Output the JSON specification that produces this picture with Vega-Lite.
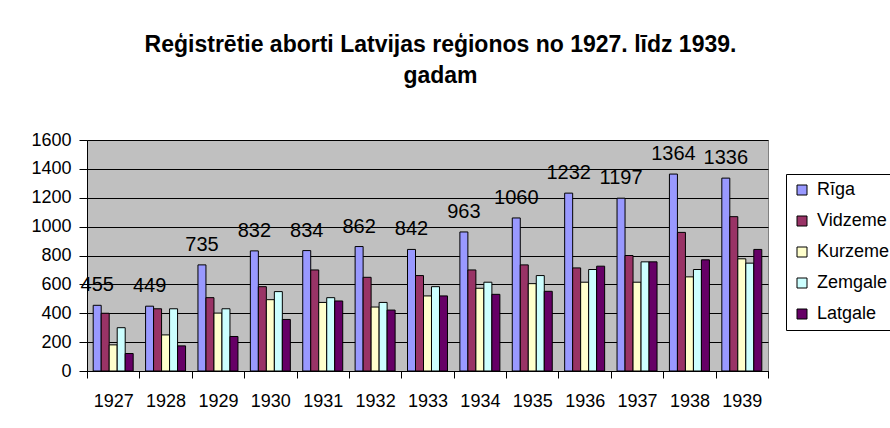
{
  "$schema": "https://vega.github.io/schema/vega-lite/v6.json",
  "width": 681,
  "height": 231,
  "autosize": {"type": "none"},
  "padding": {"left": 87, "top": 140, "right": 122, "bottom": 57},
  "background": "white",
  "title": {
    "text": ["Reģistrētie aborti Latvijas reģionos no 1927. līdz 1939.", "gadam"],
    "font": "Liberation Sans",
    "fontSize": 23,
    "fontWeight": "bold",
    "color": "#000000",
    "anchor": "middle",
    "dx": 13,
    "offset": 25,
    "lineHeight": 31,
    "baseline": "alphabetic"
  },
  "data": {
    "values": [
      {"year": "1927", "region": "Rīga", "value": 455},
      {"year": "1927", "region": "Vidzeme", "value": 400},
      {"year": "1927", "region": "Kurzeme", "value": 181},
      {"year": "1927", "region": "Zemgale", "value": 300},
      {"year": "1927", "region": "Latgale", "value": 121},
      {"year": "1928", "region": "Rīga", "value": 449},
      {"year": "1928", "region": "Vidzeme", "value": 431},
      {"year": "1928", "region": "Kurzeme", "value": 250},
      {"year": "1928", "region": "Zemgale", "value": 431},
      {"year": "1928", "region": "Latgale", "value": 174},
      {"year": "1929", "region": "Rīga", "value": 735},
      {"year": "1929", "region": "Vidzeme", "value": 508},
      {"year": "1929", "region": "Kurzeme", "value": 401},
      {"year": "1929", "region": "Zemgale", "value": 431},
      {"year": "1929", "region": "Latgale", "value": 239},
      {"year": "1930", "region": "Rīga", "value": 832},
      {"year": "1930", "region": "Vidzeme", "value": 584},
      {"year": "1930", "region": "Kurzeme", "value": 494},
      {"year": "1930", "region": "Zemgale", "value": 550},
      {"year": "1930", "region": "Latgale", "value": 357},
      {"year": "1931", "region": "Rīga", "value": 834},
      {"year": "1931", "region": "Vidzeme", "value": 700},
      {"year": "1931", "region": "Kurzeme", "value": 475},
      {"year": "1931", "region": "Zemgale", "value": 508},
      {"year": "1931", "region": "Latgale", "value": 485},
      {"year": "1932", "region": "Rīga", "value": 862},
      {"year": "1932", "region": "Vidzeme", "value": 649},
      {"year": "1932", "region": "Kurzeme", "value": 443},
      {"year": "1932", "region": "Zemgale", "value": 475},
      {"year": "1932", "region": "Latgale", "value": 422},
      {"year": "1933", "region": "Rīga", "value": 842},
      {"year": "1933", "region": "Vidzeme", "value": 661},
      {"year": "1933", "region": "Kurzeme", "value": 520},
      {"year": "1933", "region": "Zemgale", "value": 584},
      {"year": "1933", "region": "Latgale", "value": 520},
      {"year": "1934", "region": "Rīga", "value": 963},
      {"year": "1934", "region": "Vidzeme", "value": 700},
      {"year": "1934", "region": "Kurzeme", "value": 573},
      {"year": "1934", "region": "Zemgale", "value": 615},
      {"year": "1934", "region": "Latgale", "value": 531},
      {"year": "1935", "region": "Rīga", "value": 1060},
      {"year": "1935", "region": "Vidzeme", "value": 735},
      {"year": "1935", "region": "Kurzeme", "value": 605},
      {"year": "1935", "region": "Zemgale", "value": 661},
      {"year": "1935", "region": "Latgale", "value": 552},
      {"year": "1936", "region": "Rīga", "value": 1232},
      {"year": "1936", "region": "Vidzeme", "value": 714},
      {"year": "1936", "region": "Kurzeme", "value": 615},
      {"year": "1936", "region": "Zemgale", "value": 703},
      {"year": "1936", "region": "Latgale", "value": 726},
      {"year": "1937", "region": "Rīga", "value": 1197},
      {"year": "1937", "region": "Vidzeme", "value": 800},
      {"year": "1937", "region": "Kurzeme", "value": 615},
      {"year": "1937", "region": "Zemgale", "value": 756},
      {"year": "1937", "region": "Latgale", "value": 756},
      {"year": "1938", "region": "Rīga", "value": 1364},
      {"year": "1938", "region": "Vidzeme", "value": 960},
      {"year": "1938", "region": "Kurzeme", "value": 652},
      {"year": "1938", "region": "Zemgale", "value": 703},
      {"year": "1938", "region": "Latgale", "value": 770},
      {"year": "1939", "region": "Rīga", "value": 1336},
      {"year": "1939", "region": "Vidzeme", "value": 1069},
      {"year": "1939", "region": "Kurzeme", "value": 777},
      {"year": "1939", "region": "Zemgale", "value": 747},
      {"year": "1939", "region": "Latgale", "value": 842}
    ]
  },
  "encoding": {
    "x": {
      "field": "year",
      "type": "nominal",
      "sort": null,
      "title": null,
      "scale": {"paddingInner": 0, "paddingOuter": 0},
      "axis": {
        "labelAngle": 0,
        "tickBand": "extent",
        "tickSize": 7,
        "tickColor": "#000000",
        "domainColor": "#000000",
        "labelFont": "Liberation Sans",
        "labelFontSize": 18,
        "labelColor": "#000000",
        "labelPadding": 14,
        "grid": false
      }
    },
    "xOffset": {
      "field": "region",
      "type": "nominal",
      "sort": null,
      "scale": {"domain": ["Rīga", "Vidzeme", "Kurzeme", "Zemgale", "Latgale"], "paddingInner": 0, "paddingOuter": 0.775}
    },
    "y": {
      "field": "value",
      "type": "quantitative",
      "title": null,
      "scale": {"domain": [0, 1600], "nice": false},
      "axis": {
        "values": [0, 200, 400, 600, 800, 1000, 1200, 1400, 1600],
        "format": "d",
        "grid": true,
        "gridColor": "#000000",
        "gridOpacity": 1,
        "gridWidth": 1,
        "tickSize": 8,
        "tickColor": "#000000",
        "domainColor": "#000000",
        "labelFont": "Liberation Sans",
        "labelFontSize": 18,
        "labelColor": "#000000",
        "labelPadding": 8
      }
    }
  },
  "layer": [
    {
      "mark": {"type": "bar", "stroke": "#000000", "strokeWidth": 1},
      "encoding": {
        "color": {
          "field": "region",
          "type": "nominal",
          "sort": null,
          "scale": {
            "domain": ["Rīga", "Vidzeme", "Kurzeme", "Zemgale", "Latgale"],
            "range": ["#9999FF", "#993366", "#FFFFCC", "#CCFFFF", "#660066"]
          },
          "legend": {
            "title": null,
            "orient": "none",
            "legendX": 699,
            "legendY": 34,
            "strokeColor": "#000000",
            "fillColor": "#ffffff",
            "padding": 7,
            "symbolType": "square",
            "symbolSize": 100,
            "symbolStrokeColor": "#000000",
            "symbolStrokeWidth": 1,
            "symbolOpacity": 1,
            "labelFont": "Liberation Sans",
            "labelFontSize": 18,
            "labelColor": "#000000",
            "labelOffset": 6,
            "rowPadding": 13
          }
        }
      }
    },
    {
      "transform": [{"filter": "datum.region === 'Rīga'"}],
      "mark": {
        "type": "text",
        "baseline": "alphabetic",
        "align": "center",
        "dy": -14,
        "font": "Liberation Sans",
        "fontSize": 20,
        "color": "#000000"
      },
      "encoding": {
        "text": {"field": "value", "type": "quantitative"}
      }
    }
  ],
  "config": {
    "view": {"fill": "#C0C0C0", "stroke": "#808080", "strokeWidth": 1},
    "axis": {"domainWidth": 1, "tickWidth": 1}
  }
}
